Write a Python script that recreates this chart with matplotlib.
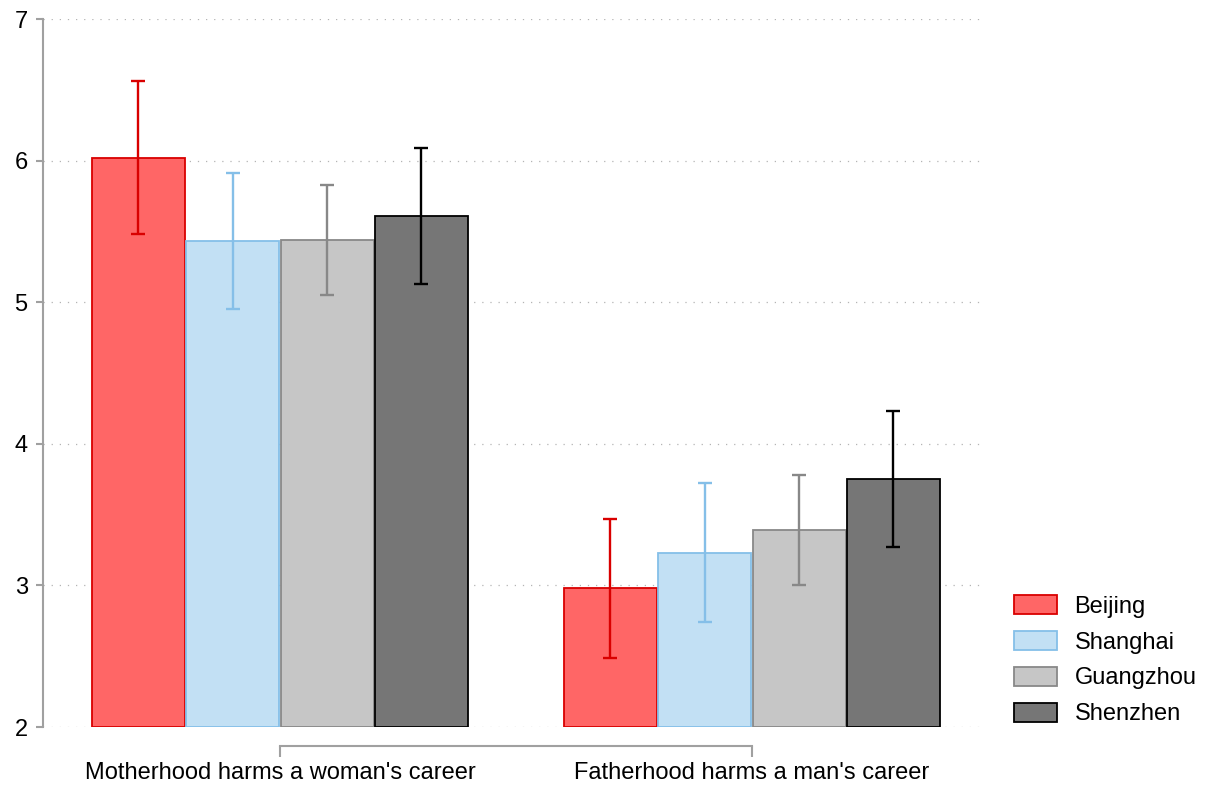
import numpy as np
import matplotlib
matplotlib.use("Agg")
import matplotlib.pyplot as plt

plt.rcParams["font.family"] = ["Liberation Sans", "DejaVu Sans"]

# valores medios e intervalos por ciudad
categories = ["Motherhood harms a woman's career", "Fatherhood harms a man's career"]
cities = ["Beijing", "Shanghai", "Guangzhou", "Shenzhen"]
means = {
    "Beijing":   [6.02, 2.98],
    "Shanghai":  [5.43, 3.23],
    "Guangzhou": [5.44, 3.39],
    "Shenzhen":  [5.61, 3.75],
}
errors = {
    "Beijing":   [0.54, 0.49],
    "Shanghai":  [0.48, 0.49],
    "Guangzhou": [0.39, 0.39],
    "Shenzhen":  [0.48, 0.48],
}
fills = ["#FF6666", "#C2E0F4", "#C6C6C6", "#767676"]
edges = ["#D90000", "#85BFE8", "#888888", "#000000"]
yticks = [2, 3, 4, 5, 6, 7]

fig = plt.figure(figsize=(12.06, 7.87), dpi=100)
ax = fig.add_axes([43 / 1206, 60 / 787, 942 / 1206, 708 / 787])

x = np.arange(len(categories))
width = 0.197
offsets = [-0.3, -0.1, 0.1, 0.3]

for i, city in enumerate(cities):
    ax.bar(x + offsets[i], np.array(means[city]) - 2, width, bottom=2,
           color=fills[i], edgecolor=edges[i], linewidth=1.3, label=city, zorder=2)
    ax.errorbar(x + offsets[i], means[city], yerr=errors[city], fmt="none",
                ecolor=edges[i], elinewidth=1.7, capsize=5, capthick=1.7, zorder=3)

ax.set_xlim(-0.502, 1.494)
ax.set_ylim(2, 7)
ax.set_yticks(yticks)
ax.set_yticklabels([str(t) for t in yticks])
ax.set_xticks(x)
ax.set_xticklabels(categories)

for t in yticks:
    ax.axhline(t, color="#B4B4B4", linewidth=0.9, linestyle=(0, (1, 5.5)), zorder=1)

for s in ["top", "right"]:
    ax.spines[s].set_visible(False)
ax.spines["left"].set_color("#A0A0A0")
ax.spines["left"].set_linewidth(1.5)
ax.spines["bottom"].set_color("#A0A0A0")
ax.spines["bottom"].set_linewidth(1.5)
ax.spines["bottom"].set_position(("outward", 14))
ax.spines["bottom"].set_bounds(0, 1)

ax.tick_params(axis="y", colors="#A0A0A0", labelcolor="black", length=5, width=1.5,
               pad=6, labelsize=17)
ax.tick_params(axis="x", colors="#A0A0A0", labelcolor="black", length=8, width=1.5,
               pad=3, labelsize=17)

handles, labels = ax.get_legend_handles_labels()
fig.legend(handles, labels, loc="upper left", bbox_to_anchor=(993 / 1206, 1 - 574 / 787),
           frameon=False, fontsize=17, handlelength=1.8, handleheight=0.85,
           labelspacing=0.56, handletextpad=0.75)

fig.savefig("out.png", dpi=100)
